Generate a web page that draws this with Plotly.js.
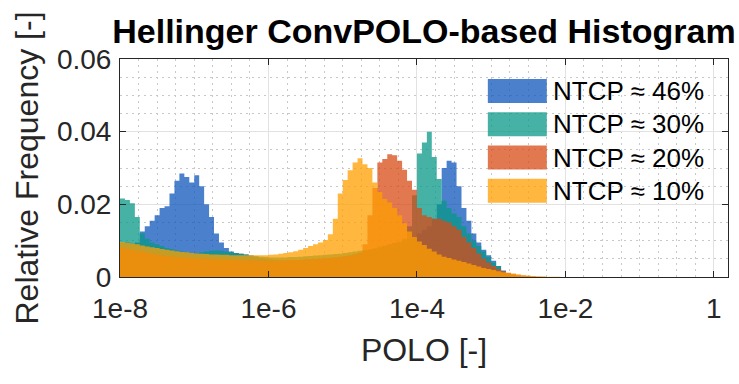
<!DOCTYPE html>
<html>
<head>
<meta charset="utf-8">
<script src="https://cdn.plot.ly/plotly-3.0.1.min.js"></script>
<style>
  html, body { margin: 0; padding: 0; background: #fff; }
  #chart { width: 739px; height: 384px; }
</style>
</head>
<body>
<div id="chart"></div>
<script>
// bins: log10 spaced, 15 per decade starting at 1e-8
const BIN_START_LOG = -8;
const BINS_PER_DECADE = 15;

const SERIES_NAMES = ["NTCP \u2248 46%", "NTCP \u2248 30%", "NTCP \u2248 20%", "NTCP \u2248 10%"];
const SERIES_COLORS = ["rgba(14,86,187,0.75)", "rgba(8,152,135,0.75)", "rgba(216,75,22,0.75)", "rgba(255,159,0,0.75)"];

// relative frequency per bin
const FREQ_46 = [
  .0095, .0095, .0092, .0095, .0125, .014, .0155, .017, .019, .0195,
  .023, .0265, .0285, .0275, .026, .028, .025, .020, .0165, .012,
  .0095, .008, .007, .0066, .0064, .0062, .0058, .0055, .0052, .005,
  .0048, .0047, .0046, .0046, .0046, .0047, .0047, .0048, .0048, .0049,
  .005, .0051, .0052, .0054, .0056, .0058, .006, .0063, .0066, .007,
  .0074, .0078, .0082, .0086, .009, .0094, .0097, .01, .0105, .011,
  .012, .013, .014, .016, .020, .030, .032, .0315, .025, .019,
  .0155, .012, .0095, .0075, .006, .0045, .003, .0018, .001, .0005,
  .0002, .0001, .00005, .00002, 0
];
const FREQ_30 = [
  .0216, .0212, .0203, .0165, .012, .0105, .0095, .009, .0085, .008,
  .0077, .0073, .007, .0068, .0066, .0066, .0068, .007, .0072, .0073,
  .0072, .007, .0068, .0066, .0064, .0062, .006, .0058, .0056, .0055,
  .0054, .0054, .0054, .0054, .0055, .0055, .0056, .0057, .0058, .0059,
  .006, .0061, .0062, .0063, .0064, .0066, .0068, .007, .0072, .0074,
  .0076, .0078, .008, .0083, .0086, .009, .0095, .0105, .014, .0225,
  .034, .037, .040, .033, .027, .021, .019, .0175, .0165, .014,
  .012, .010, .0085, .007, .0055, .004, .003, .0015, .0008, .0004,
  .0002, .0001, .00005, .00002, 0
];
const FREQ_20 = [
  .008, .0078, .0075, .0072, .007, .0067, .0064, .0062, .006, .0058,
  .0056, .0055, .0054, .0053, .0052, .0051, .005, .005, .0049, .0049,
  .0048, .0048, .0047, .0047, .0046, .0046, .0046, .0045, .0045, .0045,
  .0045, .0045, .0045, .0046, .0046, .0047, .0047, .0048, .0049, .005,
  .0051, .0052, .0053, .0054, .0055, .0057, .0059, .0062, .0066, .009,
  .017, .0245, .0315, .0325, .0338, .0335, .032, .0295, .0265, .024,
  .019, .017, .0165, .016, .016, .0155, .015, .014, .013, .011,
  .0095, .008, .0065, .005, .004, .003, .0022, .0016, .0012, .0009,
  .0006, .0004, .0003, .0002, .0001, .00005, .00002, 0
];
const FREQ_10 = [
  .0096, .0094, .0092, .009, .0087, .0084, .0082, .008, .0077, .0075,
  .0073, .0071, .0069, .0068, .0066, .0065, .0064, .0063, .0062, .0062,
  .0061, .0061, .006, .006, .006, .006, .006, .006, .006, .006,
  .0061, .0062, .0064, .0066, .0068, .0071, .0075, .008, .0085, .009,
  .0095, .0102, .0118, .016, .023, .0267, .0294, .0315, .0327, .031,
  .030, .026, .0234, .0215, .0205, .019, .017, .0148, .0125, .011,
  .0098, .0088, .0078, .007, .0062, .0056, .0052, .0048, .0045, .0041,
  .0037, .0033, .0029, .0025, .0022, .0019, .0016, .0013, .0011, .0009,
  .0007, .0005, .0004, .0003, .0002, .00015, .0001, .00007, .00005, .00003, 0
];

const X_TICK_VALS = [1e-8, 1e-6, 1e-4, 1e-2, 1];
const X_TICK_TEXT = ["1e-8", "1e-6", "1e-4", "1e-2", "1"];
const Y_TICK_VALS = [0, 0.02, 0.04, 0.06];
const Y_TICK_TEXT = ["0", "0.02", "0.04", "0.06"];

const FONT = "Liberation Sans, Arial, Helvetica, sans-serif";
const INK = "#262626";

// bin edge for bin i
function edge(i) {
  return Math.pow(10, BIN_START_LOG + i / BINS_PER_DECADE);
}

// stair outline of a histogram, drawn as a filled step line
function histTrace(freq, name, color) {
  const x = [], y = [];
  freq.forEach(function (v, i) { x.push(edge(i)); y.push(v); });
  x.push(edge(freq.length)); y.push(0);
  return {
    x: x, y: y, name: name,
    type: "scatter", mode: "lines",
    line: { shape: "hv", width: 0, color: color },
    fill: "tozeroy", fillcolor: color,
    showlegend: false, hoverinfo: "skip"
  };
}

const DATA = [
  histTrace(FREQ_46, SERIES_NAMES[0], SERIES_COLORS[0]),
  histTrace(FREQ_30, SERIES_NAMES[1], SERIES_COLORS[1]),
  histTrace(FREQ_20, SERIES_NAMES[2], SERIES_COLORS[2]),
  histTrace(FREQ_10, SERIES_NAMES[3], SERIES_COLORS[3])
];

// minor grid every quarter decade
const X_MINOR = [];
for (let i = -32; i <= 0; i++) X_MINOR.push(Math.pow(10, i / 4));

// legend drawn by hand: big patches like the original
const shapes = [], annotations = [];
SERIES_NAMES.forEach(function (name, i) {
  const top = 0.908 - i * 0.1525;
  shapes.push({
    type: "rect", xref: "paper", yref: "paper",
    x0: 0.605, x1: 0.702, y0: top - 0.11, y1: top,
    fillcolor: SERIES_COLORS[i], line: { width: 0 }
  });
  annotations.push({
    xref: "paper", yref: "paper", x: 0.709, y: top - 0.055,
    xanchor: "left", yanchor: "middle", showarrow: false,
    text: name, font: { family: FONT, size: 26, color: "#000" }
  });
});

const LAYOUT = {
  width: 739, height: 384,
  margin: { l: 120, r: 11, t: 59, b: 107 },
  paper_bgcolor: "#fff", plot_bgcolor: "#fff",
  font: { family: FONT, color: INK },
  title: {
    text: "<b>Hellinger ConvPOLO-based Histogram</b>",
    font: { family: FONT, size: 34, color: "#000" },
    xref: "paper", x: 0.5, xanchor: "center",
    yref: "container", y: 0.918, yanchor: "middle"
  },
  xaxis: {
    type: "log", range: [-8, 0.19],
    tickvals: X_TICK_VALS, ticktext: X_TICK_TEXT,
    tickfont: { size: 28, color: INK },
    ticks: "inside", ticklen: 6, tickcolor: INK,
    ticklabelstandoff: 6,
    showline: true, linecolor: INK, linewidth: 1, mirror: "ticks",
    showgrid: true, gridcolor: "#e2e2e2", gridwidth: 1,
    minor: { tickvals: X_MINOR, showgrid: true, gridcolor: "#c8c8c8", griddash: "2px,4px", ticks: "" },
    zeroline: false,
    title: { text: "POLO [-]", font: { size: 32, color: INK }, standoff: 16 }
  },
  yaxis: {
    range: [0, 0.06],
    tickvals: Y_TICK_VALS, ticktext: Y_TICK_TEXT,
    tickfont: { size: 28, color: INK },
    ticks: "inside", ticklen: 6, tickcolor: INK,
    ticklabelstandoff: 2,
    showline: true, linecolor: INK, linewidth: 1, mirror: "ticks",
    showgrid: true, gridcolor: "#e2e2e2", gridwidth: 1,
    minor: { dtick: 0.005, showgrid: true, gridcolor: "#c8c8c8", griddash: "2px,4px", ticks: "" },
    zeroline: false,
    title: { text: "Relative Frequency [-]", font: { size: 32, color: INK }, standoff: 8 }
  },
  shapes: shapes,
  annotations: annotations
};

Plotly.newPlot("chart", DATA, LAYOUT, { staticPlot: true, displayModeBar: false });
</script>
</body>
</html>
